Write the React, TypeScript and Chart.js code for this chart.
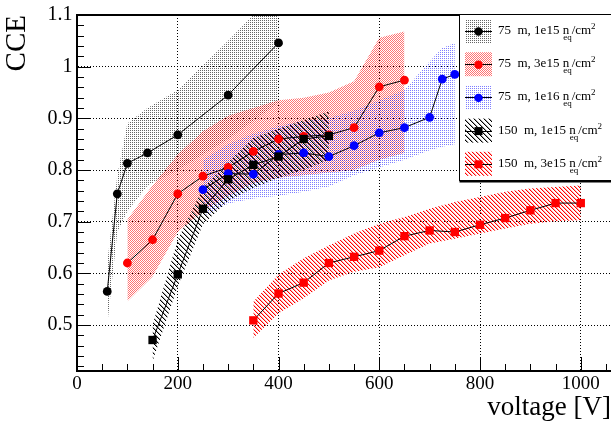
import React, { useEffect, useRef } from 'react';
import { Chart, registerables } from 'chart.js';

Chart.register(...registerables);

const FONT = '"Liberation Serif", "Times New Roman", serif';

// ---- axis ticks ----
const X_TICKS = [0, 200, 400, 600, 800, 1000];
const X_TICK_LABELS = ['0', '200', '400', '600', '800', '1000'];
const Y_TICKS = [0.5, 0.6, 0.7, 0.8, 0.9, 1.0, 1.1];
const Y_TICK_LABELS = ['0.5', '0.6', '0.7', '0.8', '0.9', '1', '1.1'];

// ---- 75 um, 1e15 (black circles, grey stipple band) ----
const V_A = [60, 80, 100, 140, 200, 300, 400];
const CCE_A = [0.565, 0.754, 0.813, 0.833, 0.868, 0.945, 1.046];
const HI_A = [0.62, 0.79, 0.89, 0.92, 0.955, 1.05, 1.15];
const LO_A = [0.5, 0.68, 0.72, 0.77, 0.8, 0.86, 0.93];

// ---- 75 um, 3e15 (red circles, red stipple band) ----
const V_B = [100, 150, 200, 250, 300, 350, 400, 450, 500, 550, 600, 650];
const CCE_B = [0.62, 0.665, 0.754, 0.788, 0.805, 0.836, 0.86, 0.865, 0.868, 0.882, 0.961, 0.974];
const HI_B = [0.704, 0.77, 0.83, 0.875, 0.905, 0.92, 0.935, 0.94, 0.95, 0.972, 1.056, 1.068];
const LO_B = [0.546, 0.594, 0.68, 0.72, 0.75, 0.775, 0.785, 0.79, 0.795, 0.8, 0.82, 0.833];

// ---- 75 um, 1e16 (blue circles, blue stipple band) ----
const V_C = [250, 300, 350, 400, 450, 500, 550, 600, 650, 700, 725, 750];
const CCE_C = [0.762, 0.793, 0.792, 0.83, 0.833, 0.826, 0.847, 0.872, 0.882, 0.902, 0.976, 0.985];
const HI_C = [0.82, 0.85, 0.87, 0.885, 0.895, 0.9, 0.915, 0.935, 0.955, 1.01, 1.036, 1.046];
const LO_C = [0.71, 0.735, 0.745, 0.75, 0.758, 0.768, 0.79, 0.805, 0.82, 0.838, 0.845, 0.85];

// ---- 150 um, 1e15 (black squares, black hatch band) ----
const V_D = [150, 200, 250, 300, 350, 400, 450, 500];
const CCE_D = [0.471, 0.598, 0.725, 0.782, 0.81, 0.826, 0.86, 0.866];
const HI_D = [0.5, 0.665, 0.765, 0.815, 0.862, 0.88, 0.897, 0.913];
const LO_D = [0.43, 0.575, 0.695, 0.74, 0.765, 0.785, 0.8, 0.82];

// ---- 150 um, 3e15 (red squares, red hatch band) ----
const V_E = [350, 400, 450, 500, 550, 600, 650, 700, 750, 800, 850, 900, 950, 1000];
const CCE_E = [0.509, 0.561, 0.582, 0.62, 0.632, 0.644, 0.672, 0.683, 0.68, 0.694, 0.707, 0.722, 0.736, 0.736];
const HI_E = [0.545, 0.598, 0.629, 0.654, 0.677, 0.696, 0.709, 0.725, 0.738, 0.748, 0.758, 0.764, 0.767, 0.77];
const LO_E = [0.475, 0.523, 0.552, 0.586, 0.603, 0.612, 0.635, 0.658, 0.667, 0.677, 0.687, 0.696, 0.701, 0.703];

const LEGEND_LEADS = ['75  m, 1e15 n', '75  m, 3e15 n', '75  m, 1e16 n', '150  m, 1e15 n', '150  m, 3e15 n'];

function makePattern(size: number, pixels: Array<[number, number, string]>): CanvasPattern {
  const c = document.createElement('canvas');
  c.width = size;
  c.height = size;
  const g = c.getContext('2d')!;
  for (const [x, y, col] of pixels) {
    g.fillStyle = col;
    g.fillRect(x, y, 1, 1);
  }
  return g.createPattern(c, 'repeat')!;
}

function buildPatterns() {
  const grey = makePattern(2, [[0, 0, 'rgba(0,0,0,0.6)']]);
  const red = makePattern(2, [[0, 0, 'rgba(255,0,0,0.55)'], [1, 1, 'rgba(255,0,0,0.55)']]);
  const blue = makePattern(2, [[0, 0, 'rgba(20,20,255,0.55)']]);
  const bh: Array<[number, number, string]> = [];
  for (let i = 0; i < 5; i++) {
    bh.push([i, i, 'rgba(0,0,0,1)']);
    bh.push([(i + 1) % 5, i, 'rgba(0,0,0,0.35)']);
  }
  const blackHatch = makePattern(5, bh);
  const rh: Array<[number, number, string]> = [];
  for (let i = 0; i < 4; i++) {
    rh.push([i, i, 'rgba(255,0,0,1)']);
    rh.push([(i + 1) % 4, i, 'rgba(255,0,0,0.3)']);
  }
  const redHatch = makePattern(4, rh);
  return [grey, red, blue, blackHatch, redHatch];
}

const pts = (xs: number[], ys: number[]) => xs.map((x, i) => ({ x, y: ys[i] }));

export default function App() {
  const ref = useRef<HTMLCanvasElement | null>(null);

  useEffect(() => {
    const canvas = ref.current;
    if (!canvas) return;
    const patterns = buildPatterns();
    const series = [
      { v: V_A, c: CCE_A, hi: HI_A, lo: LO_A, color: '#000000', style: 'circle', r: 4.4 },
      { v: V_B, c: CCE_B, hi: HI_B, lo: LO_B, color: '#ff0000', style: 'circle', r: 4.4 },
      { v: V_C, c: CCE_C, hi: HI_C, lo: LO_C, color: '#0000ff', style: 'circle', r: 4.4 },
      { v: V_D, c: CCE_D, hi: HI_D, lo: LO_D, color: '#000000', style: 'rect', r: 5.9 },
      { v: V_E, c: CCE_E, hi: HI_E, lo: LO_E, color: '#ff0000', style: 'rect', r: 5.9 },
    ];
    const datasets: any[] = [];
    series.forEach((s, k) => {
      // bands drawn first (high order), then all lines/markers on top
      const bandOrder = 100 - k * 10;
      const lineOrder = 50 - k * 10;
      datasets.push({
        data: pts(s.v, s.hi), borderWidth: 0, borderColor: 'rgba(0,0,0,0)', pointRadius: 0,
        fill: '+1', backgroundColor: patterns[k], tension: 0, order: bandOrder,
      });
      datasets.push({
        data: pts(s.v, s.lo), borderWidth: 0, borderColor: 'rgba(0,0,0,0)', pointRadius: 0,
        fill: false, tension: 0, order: bandOrder,
      });
      datasets.push({
        data: pts(s.v, s.c), borderWidth: 1, borderColor: '#000', tension: 0, fill: false,
        pointStyle: s.style, pointRadius: s.r, pointBackgroundColor: s.color, pointBorderColor: s.color,
        pointBorderWidth: 0, order: lineOrder,
      });
    });

    const decor = {
      id: 'decor',
      afterDraw(chart: any) {
        const { ctx, chartArea: a, scales } = chart;
        const x = scales.x;
        const y = scales.y;
        ctx.save();
        ctx.strokeStyle = '#000';
        ctx.lineWidth = 1;
        ctx.beginPath();
        for (let v = 0; v <= 1050; v += 50) {
          const px = Math.round(x.getPixelForValue(v)) + 0.5;
          const len = v % 200 === 0 ? 14 : 7;
          ctx.moveTo(px, a.bottom);
          ctx.lineTo(px, a.bottom - len);
        }
        for (let k = 21; k <= 55; k++) {
          const py = Math.round(y.getPixelForValue(k * 0.02)) + 0.5;
          const len = k % 5 === 0 ? 14 : 7;
          ctx.moveTo(a.left, py);
          ctx.lineTo(a.left + len, py);
        }
        ctx.stroke();
        ctx.lineWidth = 2;
        ctx.beginPath();
        ctx.moveTo(a.left, a.top);
        ctx.lineTo(a.right, a.top);
        ctx.stroke();

        // legend
        const L = 459.5, T = 14.5, B = 180.5, R = 640;
        ctx.fillStyle = '#fff';
        ctx.fillRect(L, T, R - L, B - T);
        ctx.lineWidth = 1;
        ctx.strokeRect(L, T, R - L, B - T);
        ctx.lineWidth = 2;
        ctx.beginPath();
        ctx.moveTo(L, B + 1);
        ctx.lineTo(R, B + 1);
        ctx.stroke();
        series.forEach((s, k) => {
          const cy = 31 + k * 33.2;
          ctx.fillStyle = patterns[k];
          ctx.fillRect(465, cy - 12, 27, 24);
          ctx.strokeStyle = '#000';
          ctx.lineWidth = 1;
          ctx.beginPath();
          ctx.moveTo(465, Math.round(cy) + 0.5);
          ctx.lineTo(492, Math.round(cy) + 0.5);
          ctx.stroke();
          ctx.fillStyle = s.color;
          ctx.beginPath();
          if (s.style === 'circle') {
            ctx.arc(478.5, cy + 0.5, 4.2, 0, Math.PI * 2);
          } else {
            ctx.rect(474.5, cy - 3.5, 8, 8);
          }
          ctx.fill();
          ctx.fillStyle = '#000';
          ctx.textBaseline = 'alphabetic';
          ctx.textAlign = 'left';
          const base = cy + 3;
          ctx.font = `13px ${FONT}`;
          const lead = LEGEND_LEADS[k];
          ctx.fillText(lead, 498, base);
          let xx = 498 + ctx.measureText(lead).width - 6;
          ctx.font = `9px ${FONT}`;
          ctx.fillText('eq', xx, base + 6);
          xx += ctx.measureText('eq').width;
          ctx.font = `13px ${FONT}`;
          ctx.fillText('/cm', xx, base);
          xx += ctx.measureText('/cm').width;
          ctx.font = `9px ${FONT}`;
          ctx.fillText('2', xx, base - 5);
        });
        ctx.restore();
      },
    };

    const gridColor = (list: number[]) => (c: any) => {
      const v = c.tick ? c.tick.value : NaN;
      return list.some((t) => Math.abs(t - v) < 1e-6) ? '#000' : 'rgba(0,0,0,0)';
    };

    const chart = new Chart(canvas, {
      type: 'line',
      data: { datasets },
      plugins: [decor],
      options: {
        responsive: false,
        animation: false,
        devicePixelRatio: 1,
        layout: { autoPadding: false, padding: { top: 15, left: 0, right: 0, bottom: 0 } },
        plugins: {
          legend: { display: false },
          tooltip: { enabled: false },
          filler: { propagate: false },
        },
        scales: {
          x: {
            type: 'linear',
            min: 0,
            max: 1060,
            afterFit: (s: any) => { s.height = 52; s.paddingRight = 0; s.paddingLeft = 0; },
            afterBuildTicks: (s: any) => { s.ticks = X_TICKS.map((v) => ({ value: v })); },
            ticks: {
              font: { family: FONT, size: 19 },
              color: '#000',
              padding: 2,
              maxRotation: 0,
              autoSkip: false,
              callback: (v: any) => X_TICK_LABELS[X_TICKS.indexOf(Number(v))] ?? '',
            },
            grid: { drawTicks: false, color: gridColor(X_TICKS), lineWidth: 1 },
            border: { display: true, color: '#000', width: 2, dash: [1, 2] },
            title: {
              display: true, text: 'voltage [V]', align: 'end', color: '#000',
              font: { family: FONT, size: 27, lineHeight: 1 }, padding: { top: 0, bottom: 1.5 },
            },
          },
          y: {
            type: 'linear',
            min: 0.411,
            max: 1.1,
            afterFit: (s: any) => { s.width = 77; s.paddingTop = 0; s.paddingBottom = 0; },
            afterBuildTicks: (s: any) => { s.ticks = Y_TICKS.map((v) => ({ value: v })); },
            ticks: {
              font: { family: FONT, size: 20 },
              color: '#000',
              padding: 4.5,
              autoSkip: false,
              callback: (v: any) => {
                const i = Y_TICKS.findIndex((t) => Math.abs(t - Number(v)) < 1e-6);
                return i >= 0 ? Y_TICK_LABELS[i] : '';
              },
            },
            grid: { drawTicks: false, color: gridColor(Y_TICKS), lineWidth: 1 },
            border: { display: true, color: '#000', width: 2, dash: [1, 2] },
            title: {
              display: true, text: 'CCE', align: 'end', color: '#000',
              font: { family: FONT, size: 29, lineHeight: 1 }, padding: { top: 3.3, bottom: 0 },
            },
          },
        },
      } as any,
    });
    return () => chart.destroy();
  }, []);

  return (
    <div style={{ position: 'absolute', left: 0, top: 0, width: 611, height: 423, background: '#fff' }}>
      <canvas ref={ref} width={611} height={423} style={{ display: 'block', width: 611, height: 423 }} />
    </div>
  );
}
